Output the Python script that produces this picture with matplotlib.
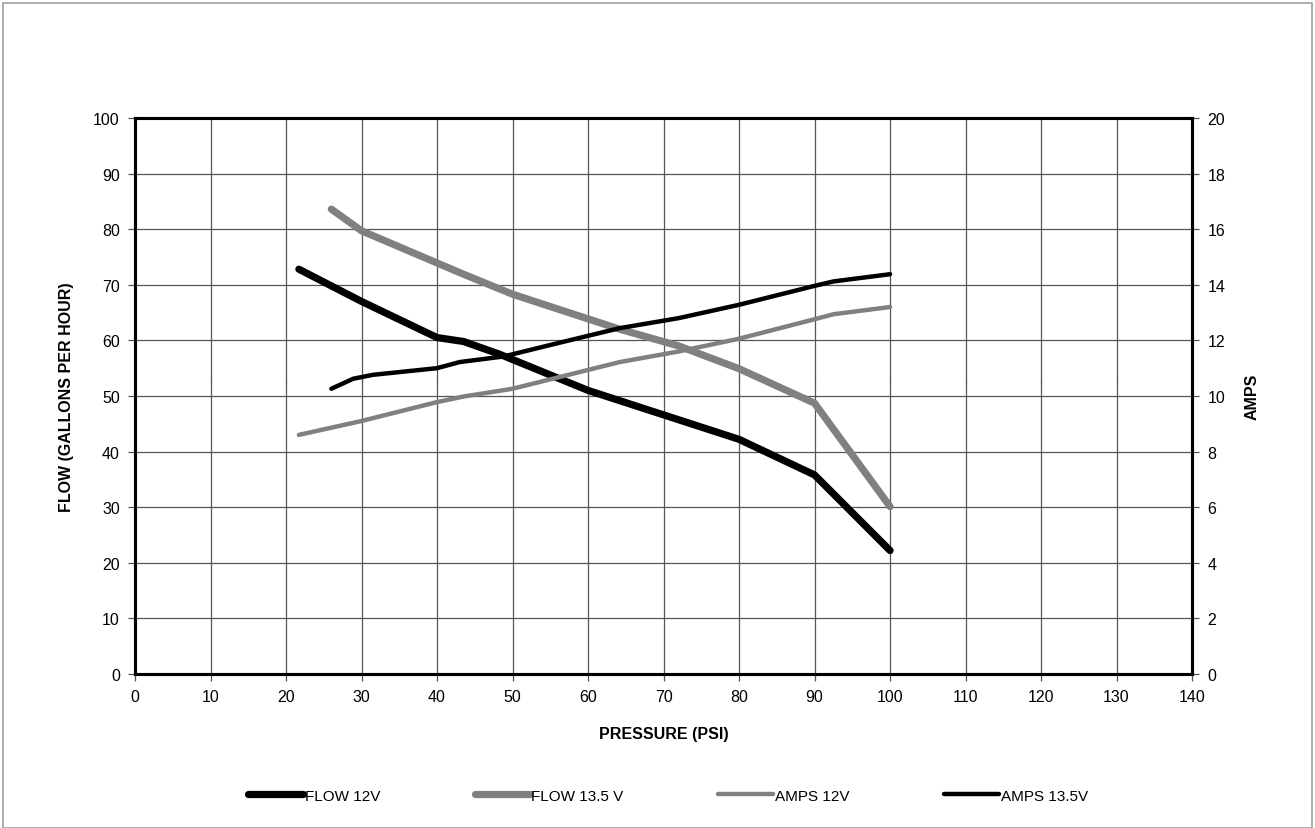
import matplotlib
matplotlib.use("Agg")
import matplotlib.pyplot as plt
from matplotlib.patches import Rectangle

plt.rcParams['font.family'] = ['Liberation Sans', 'DejaVu Sans']

# data
flow12_psi = [21.7, 30, 40, 43.5, 48.3, 60, 70, 80, 90, 100]
flow12_gph = [72.8, 67.0, 60.5, 59.8, 57.5, 51.0, 46.6, 42.2, 35.8, 22.2]

flow135_psi = [26, 30, 43.5, 50, 64.2, 72, 80, 90, 100]
flow135_gph = [83.6, 79.7, 71.9, 68.3, 62.0, 59.0, 54.9, 48.7, 30.1]

amps12_psi = [21.7, 30, 40, 43.5, 50, 64.2, 72, 80, 90, 92.5, 100]
amps12_a = [8.6, 9.1, 9.78, 9.98, 10.26, 11.22, 11.6, 12.06, 12.76, 12.94, 13.2]

amps135_psi = [26, 28.9, 31.5, 40, 43, 48.8, 56, 64.2, 72, 80, 90, 92.5, 100]
amps135_a = [10.26, 10.62, 10.76, 11.0, 11.22, 11.42, 11.9, 12.44, 12.8, 13.28, 13.96, 14.12, 14.38]

xticks = list(range(0, 141, 10))
yticks_left = list(range(0, 101, 10))
yticks_right = list(range(0, 21, 2))

fig = plt.figure(figsize=(13.15, 8.29), dpi=100)
fig.patches.append(Rectangle((0.002, 0.0), 0.996, 0.995, transform=fig.transFigure,
                             fill=False, edgecolor='#a0a0a0', linewidth=1.2))

ax = fig.add_axes([0.1027, 0.1858, 0.8038, 0.6707])
ax2 = ax.twinx()

ax.set_xlim(0, 140)
ax.set_ylim(0, 100)
ax2.set_ylim(0, 20)
ax.set_xticks(xticks)
ax.set_yticks(yticks_left)
ax2.set_yticks(yticks_right)

ax.grid(True, color='#555555', linewidth=0.9)
ax.set_axisbelow(True)

for a in (ax, ax2):
    for s in a.spines.values():
        s.set_linewidth(2.2)
        s.set_color('black')
    a.tick_params(direction='out', length=5, width=0.9, color='#555555',
                  labelsize=11.5, pad=6)

l1, = ax.plot(flow12_psi, flow12_gph, color='black', lw=5.2,
              solid_capstyle='round', solid_joinstyle='round', label='FLOW 12V')
l2, = ax.plot(flow135_psi, flow135_gph, color='#808080', lw=5.2,
              solid_capstyle='round', solid_joinstyle='round', label='FLOW 13.5 V')
l3, = ax2.plot(amps12_psi, amps12_a, color='#808080', lw=3.2,
               solid_capstyle='round', solid_joinstyle='round', label='AMPS 12V')
l4, = ax2.plot(amps135_psi, amps135_a, color='black', lw=3.2,
               solid_capstyle='round', solid_joinstyle='round', label='AMPS 13.5V')

# stray secondary x axis tick marks crossing mid-plot
sec = ax.secondary_xaxis(0.5275)
sec.set_xticks(xticks)
sec.set_xticklabels([])
sec.tick_params(direction='inout', length=5, width=0.8, color='#555555',
                labelbottom=False, labeltop=False)
for s in sec.spines.values():
    s.set_visible(False)

ax.set_xlabel('PRESSURE (PSI)', fontsize=11.5, fontweight='bold', labelpad=16)
ax.set_ylabel('FLOW (GALLONS PER HOUR)', fontsize=11.5, fontweight='bold', labelpad=14)
ax2.set_ylabel('AMPS', fontsize=11.5, fontweight='bold', labelpad=14)

fig.legend(handles=[l1, l2, l3, l4], loc='center', bbox_to_anchor=(0.508, 0.039),
           ncol=4, frameon=False, fontsize=11, handlelength=3.6,
           handletextpad=0.1, columnspacing=6.2)

fig.savefig('out.png', dpi=100)
